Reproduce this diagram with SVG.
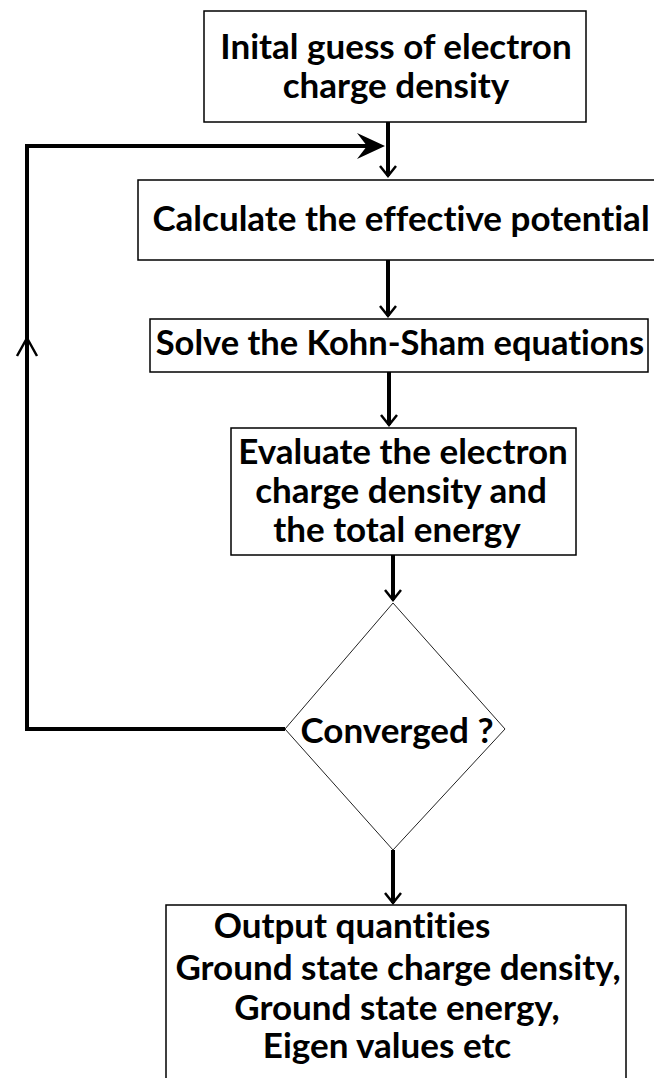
<svg xmlns="http://www.w3.org/2000/svg" width="654" height="1078" viewBox="0 0 654 1078">
<style>
.box{fill:#fff;stroke:#000;stroke-width:1.5}
.dia{fill:#fff;stroke:#222;stroke-width:1}
.t{font-family:Lato,"Liberation Sans",sans-serif;font-weight:bold;font-size:35px;fill:#000;text-anchor:middle;font-variant-ligatures:none}
.c{fill:none;stroke:#000;stroke-width:4}
.h{fill:none;stroke:#000;stroke-width:2.5}
</style>
<rect width="654" height="1078" fill="#fff"/>
<g id="connectors">
<line class="c" x1="388" y1="122" x2="388" y2="176"/>
<polyline class="h" points="380,166 388,176 396,166"/>
<polyline class="c" points="285,729 27,729 27,146 370,146"/>
<polygon fill="#000" points="385,146 357,133 367,146 357,159"/>
<polyline class="h" points="17,356 27,338 37,356"/>
<line class="c" x1="388" y1="260" x2="388" y2="316"/>
<polyline class="h" points="380,306 388,316 396,306"/>
<line class="c" x1="389" y1="372" x2="389" y2="425"/>
<polyline class="h" points="381,415 389,425 397,415"/>
<line class="c" x1="393" y1="555" x2="393" y2="600"/>
<polyline class="h" points="385,590 393,600 401,590"/>
<line class="c" x1="393" y1="850" x2="393" y2="903"/>
<polyline class="h" points="385,893 393,903 401,893"/>
</g>
<g id="n1">
<rect class="box" x="204" y="11" width="382" height="111"/>
<text class="t" x="396" y="59">Inital guess of electron</text>
<text class="t" x="396" y="98">charge density</text>
</g>
<g id="n2">
<rect class="box" x="138" y="180" width="520" height="80"/>
<text class="t" x="401" y="231">Calculate the effective potential</text>
</g>
<g id="n3">
<rect class="box" x="150" y="319" width="498" height="53"/>
<text class="t" x="400" y="355" style="font-size:34.5px">Solve the Kohn-Sham equations</text>
</g>
<g id="n4">
<rect class="box" x="231" y="428" width="345" height="127"/>
<text class="t" x="403" y="464">Evaluate the electron</text>
<text class="t" x="401" y="503">charge density and</text>
<text class="t" x="397" y="542">the total energy</text>
</g>
<g id="n5">
<polygon class="dia" points="393,603 505,729 393,850 285,729"/>
<text class="t" x="397" y="743">Converged ?</text>
</g>
<g id="n6">
<rect class="box" x="166" y="905" width="460" height="180"/>
<text class="t" x="352" y="938">Output quantities</text>
<text class="t" x="398" y="980">Ground state charge density,</text>
<text class="t" x="397" y="1020">Ground state energy,</text>
<text class="t" x="387" y="1058">Eigen values etc</text>
</g>
</svg>
